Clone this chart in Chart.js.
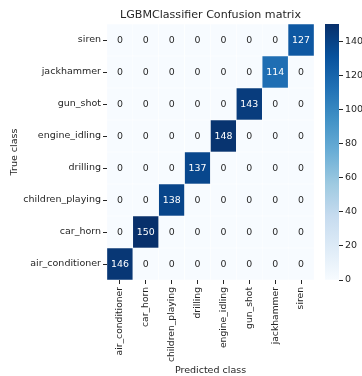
<!DOCTYPE html>
<html>
<head>
<meta charset="utf-8">
<script src="https://cdn.jsdelivr.net/npm/chart.js@4/dist/chart.umd.min.js"></script>
<style>
  html, body { margin: 0; padding: 0; background: #ffffff; }
  #wrap { position: relative; width: 362px; height: 376px; }
  #wrap canvas { position: absolute; left: 0; top: 0; }
</style>
</head>
<body>
<div id="wrap">
  <canvas id="matrix" width="362" height="376"></canvas>
  <canvas id="cbar" width="362" height="376"></canvas>
</div>
<script>
// Class names (rows = true class, columns = predicted class)
const predictedClasses = ['air_conditioner', 'car_horn', 'children_playing', 'drilling',
  'engine_idling', 'gun_shot', 'jackhammer', 'siren'];
const trueClasses = ['air_conditioner', 'car_horn', 'children_playing', 'drilling',
  'engine_idling', 'gun_shot', 'jackhammer', 'siren'];

// Confusion counts, row i = true class i
const rowAirConditioner = [146, 0, 0, 0, 0, 0, 0, 0];
const rowCarHorn        = [0, 150, 0, 0, 0, 0, 0, 0];
const rowChildren       = [0, 0, 138, 0, 0, 0, 0, 0];
const rowDrilling       = [0, 0, 0, 137, 0, 0, 0, 0];
const rowEngineIdling   = [0, 0, 0, 0, 148, 0, 0, 0];
const rowGunShot        = [0, 0, 0, 0, 0, 143, 0, 0];
const rowJackhammer     = [0, 0, 0, 0, 0, 0, 114, 0];
const rowSiren          = [0, 0, 0, 0, 0, 0, 0, 127];
const confusion = [rowAirConditioner, rowCarHorn, rowChildren, rowDrilling,
  rowEngineIdling, rowGunShot, rowJackhammer, rowSiren];

// Colour bar range and ticks
const colorRange = [0, 150];
const colorbarTicks = [0, 20, 40, 60, 80, 100, 120, 140];

const FONT = 'DejaVu Sans';
const INK = '#262626';
const LABEL_SIZE = 9.5;

// Matplotlib "Blues" colormap stops
const BLUES = ['#f7fbff', '#deebf7', '#c6dbef', '#9ecae1', '#6baed6',
  '#4292c6', '#2171b5', '#08519c', '#08306b'];
function hexRgb(h) {
  return [parseInt(h.slice(1, 3), 16), parseInt(h.slice(3, 5), 16), parseInt(h.slice(5, 7), 16)];
}
function bluesRgb(t) {
  t = Math.max(0, Math.min(1, t));
  const pos = t * (BLUES.length - 1);
  const i = Math.min(Math.floor(pos), BLUES.length - 2);
  const f = pos - i;
  const a = hexRgb(BLUES[i]), b = hexRgb(BLUES[i + 1]);
  return a.map((v, k) => Math.round(v + (b[k] - v) * f));
}
function blues(t) {
  const c = bluesRgb(t);
  return `rgb(${c[0]},${c[1]},${c[2]})`;
}
function norm(v) { return (v - colorRange[0]) / (colorRange[1] - colorRange[0]); }
function textColor(v) {
  const rgb = bluesRgb(norm(v));
  const lum = (0.2126 * rgb[0] + 0.7152 * rgb[1] + 0.0722 * rgb[2]) / 255;
  return lum < 0.408 ? '#ffffff' : INK;
}

// Cell value labels
const annotate = {
  id: 'annotate',
  afterDatasetsDraw(chart) {
    const ctx = chart.ctx;
    ctx.save();
    ctx.font = `9.4px "${FONT}"`;
    ctx.textAlign = 'center';
    ctx.textBaseline = 'middle';
    chart.data.datasets.forEach((ds, r) => {
      chart.getDatasetMeta(r).data.forEach((bar, c) => {
        const v = confusion[r][c];
        ctx.fillStyle = textColor(v);
        ctx.fillText(String(v), bar.x, (bar.y + bar.base) / 2 + 0.5);
      });
    });
    ctx.restore();
  }
};

const cells = trueClasses.map((name, r) => ({
  label: name,
  data: confusion[r].map(() => [r - 0.5, r + 0.5]),
  backgroundColor: confusion[r].map(v => blues(norm(v))),
  borderColor: 'rgba(255,255,255,0.85)',
  borderWidth: 0.5,
  borderSkipped: false,
  grouped: false,
  barPercentage: 1,
  categoryPercentage: 1
}));

new Chart(document.getElementById('matrix'), {
  type: 'bar',
  data: { labels: predictedClasses, datasets: cells },
  plugins: [annotate],
  options: {
    responsive: false,
    animation: false,
    devicePixelRatio: 1,
    layout: { padding: { left: 0, right: 48, top: 0, bottom: 0 } },
    plugins: {
      legend: { display: false },
      tooltip: { enabled: false },
      title: {
        display: true,
        text: 'LGBMClassifier Confusion matrix',
        fullSize: false,
        color: INK,
        font: { family: FONT, size: 11.1, weight: 'normal' },
        padding: { top: 8.4, bottom: 2.3 }
      }
    },
    scales: {
      x: {
        type: 'category',
        offset: true,
        border: { display: false },
        grid: { display: true, drawOnChartArea: false, drawTicks: true, tickLength: 4, tickColor: INK, offset: false },
        ticks: { color: INK, font: { family: FONT, size: 9.2 }, minRotation: 90, maxRotation: 90, padding: 3, autoSkip: false },
        title: { display: true, text: 'Predicted class', color: INK, font: { family: FONT, size: LABEL_SIZE }, padding: { top: 0, bottom: 0 } },
        afterFit(axis) { axis.height = 96; }
      },
      y: {
        type: 'linear',
        min: -0.5,
        max: 7.5,
        border: { display: false },
        grid: { display: true, drawOnChartArea: false, drawTicks: true, tickLength: 4, tickColor: INK },
        afterBuildTicks(axis) { axis.ticks = trueClasses.map((_, i) => ({ value: i })); },
        ticks: { color: INK, font: { family: FONT, size: LABEL_SIZE }, padding: 2, callback: v => trueClasses[v] },
        title: { display: true, text: 'True class', color: INK, font: { family: FONT, size: LABEL_SIZE }, padding: { top: 9.3, bottom: 0 } },
        afterFit(axis) { axis.width = 107; }
      }
    }
  }
});

// Colour bar
new Chart(document.getElementById('cbar'), {
  type: 'bar',
  data: {
    labels: [''],
    datasets: [{
      data: [colorRange],
      barPercentage: 1,
      categoryPercentage: 1,
      borderWidth: 0,
      backgroundColor(ctx) {
        const area = ctx.chart.chartArea;
        if (!area) return BLUES[0];
        const g = ctx.chart.ctx.createLinearGradient(0, area.bottom, 0, area.top);
        BLUES.forEach((c, i) => g.addColorStop(i / (BLUES.length - 1), c));
        return g;
      }
    }]
  },
  options: {
    responsive: false,
    animation: false,
    devicePixelRatio: 1,
    layout: { padding: { left: 325, right: 0, top: 24, bottom: 96 } },
    plugins: { legend: { display: false }, tooltip: { enabled: false } },
    scales: {
      x: { display: false },
      y: {
        position: 'right',
        min: colorRange[0],
        max: colorRange[1],
        border: { display: false },
        grid: { display: true, drawOnChartArea: false, drawTicks: true, tickLength: 4, tickColor: INK },
        afterBuildTicks(axis) { axis.ticks = colorbarTicks.map(v => ({ value: v })); },
        ticks: { color: INK, font: { family: FONT, size: LABEL_SIZE }, padding: 2 },
        afterFit(axis) { axis.width = 23; }
      }
    }
  }
});
</script>
</body>
</html>
